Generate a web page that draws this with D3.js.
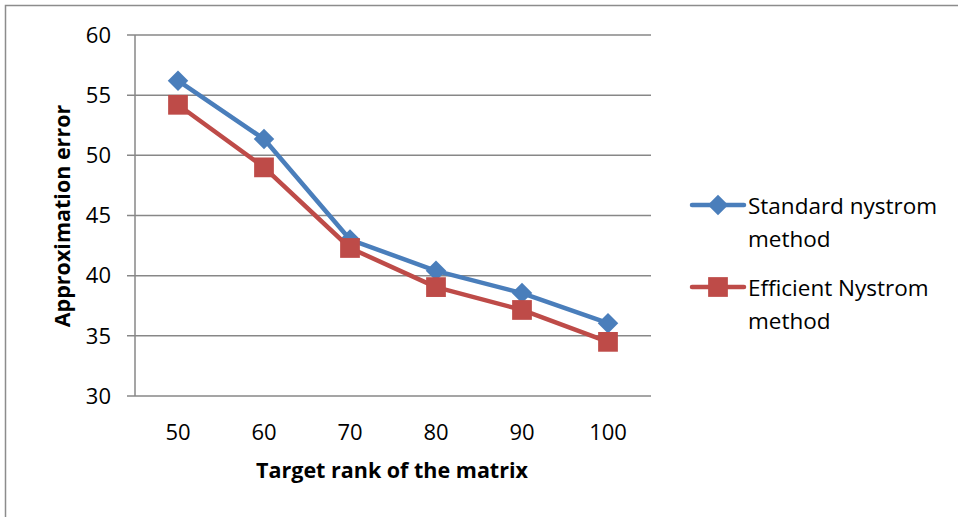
<!DOCTYPE html>
<html><head><meta charset="utf-8">
<script src="https://cdn.jsdelivr.net/npm/d3@7"></script>
<style>body{margin:0;background:#fff}svg{display:block}</style>
</head><body>
<svg id="c" width="958" height="517"></svg>
<script>
const categories = [50, 60, 70, 80, 90, 100];
const standardValues = [56.2, 51.35, 43.0, 40.4, 38.55, 36.05];
const efficientValues = [54.2, 49.0, 42.3, 39.05, 37.15, 34.5];
const seriesNames = ["Standard nystrom method", "Efficient Nystrom method"];
const yTicks = [30, 35, 40, 45, 50, 55, 60];

const svg = d3.select("#c");
const font = "Open Sans, Noto Sans, sans-serif";
const blue = "#4A7EBB", red = "#BE4B48", grid = "#878787";

svg.append("rect").attr("x", 5.5).attr("y", 5.5).attr("width", 1000).attr("height", 1000)
  .attr("fill", "#fff").attr("stroke", "#8c8c8c").attr("stroke-width", 1.5);

const x = d3.scaleBand().domain(categories).range([135, 651]);
const y = d3.scaleLinear().domain([30, 60]).range([396, 35]);

// gridlines
svg.append("g").selectAll("line").data(yTicks).join("line")
  .attr("x1", 127).attr("x2", 651)
  .attr("y1", d => y(d)).attr("y2", d => y(d))
  .attr("stroke", grid).attr("stroke-width", 1.5);
// y axis line
svg.append("line").attr("x1", 135).attr("x2", 135).attr("y1", y(60)).attr("y2", y(30))
  .attr("stroke", grid).attr("stroke-width", 1.5);

// y tick labels
svg.append("g").selectAll("text").data(yTicks).join("text")
  .attr("x", 111).attr("y", d => y(d)).attr("dy", "0.35em")
  .attr("text-anchor", "end").attr("font-family", font).attr("font-size", 22)
  .attr("fill", "#000").text(d => d);

// x tick labels
svg.append("g").selectAll("text").data(categories).join("text")
  .attr("x", d => x(d) + x.bandwidth() / 2).attr("y", 432).attr("dy", "0.35em")
  .attr("text-anchor", "middle").attr("font-family", font).attr("font-size", 22)
  .attr("fill", "#000").text(d => d);

// axis titles
svg.append("text").attr("x", 392).attr("y", 470).attr("dy", "0.35em")
  .attr("text-anchor", "middle").attr("font-family", font).attr("font-size", 21.5)
  .attr("font-weight", "bold").text("Target rank of the matrix");
svg.append("text").attr("transform", "translate(62,216) rotate(-90)").attr("dy", "0.35em")
  .attr("text-anchor", "middle").attr("font-family", font).attr("font-size", 21.5)
  .attr("font-weight", "bold").text("Approximation error");

const cx = d => x(d) + x.bandwidth() / 2;
const line = d3.line().x(d => cx(d[0])).y(d => y(d[1]));

const series = [
  { name: seriesNames[0], values: standardValues, color: blue, shape: d3.symbolSquare, size: 210, rot: 45 },
  { name: seriesNames[1], values: efficientValues, color: red, shape: d3.symbolSquare, size: 390, rot: 0 }
];

series.forEach(s => {
  const pts = categories.map((c, i) => [c, s.values[i]]);
  svg.append("path").datum(pts).attr("d", line).attr("fill", "none")
    .attr("stroke", s.color).attr("stroke-width", 4.5).attr("stroke-linejoin", "round");
  svg.append("g").selectAll("path").data(pts).join("path")
    .attr("transform", d => `translate(${cx(d[0])},${y(d[1])}) rotate(${s.rot})`)
    .attr("d", d3.symbol().type(s.shape).size(s.size)).attr("fill", s.color);
});

// legend
const legY = [205, 287];
series.forEach((s, i) => {
  const g = svg.append("g");
  g.append("line").attr("x1", 692).attr("x2", 744).attr("y1", legY[i]).attr("y2", legY[i])
    .attr("stroke", s.color).attr("stroke-width", 4.5).attr("stroke-linecap", "round");
  g.append("path").attr("transform", `translate(718,${legY[i]}) rotate(${s.rot})`)
    .attr("d", d3.symbol().type(s.shape).size(s.size)).attr("fill", s.color);
  const words = s.name.split(" ");
  const t = g.append("text").attr("font-family", font).attr("font-size", 22.5).attr("fill", "#000");
  t.append("tspan").attr("x", 748).attr("y", legY[i] + 1).attr("dy", "0.35em").text(words.slice(0, 2).join(" "));
  t.append("tspan").attr("x", 748).attr("y", legY[i] + 34).attr("dy", "0.35em").text(words.slice(2).join(" "));
});
</script>
</body></html>
